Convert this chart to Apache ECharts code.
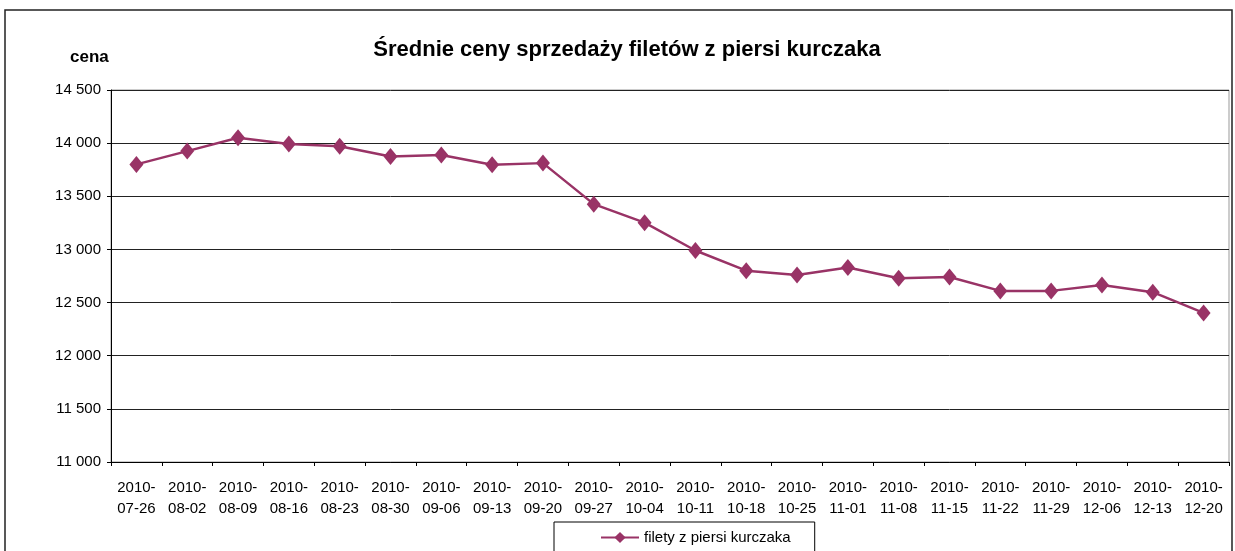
<!DOCTYPE html>
<html>
<head>
<meta charset="utf-8">
<script src="https://cdn.jsdelivr.net/npm/echarts@6/dist/echarts.min.js"></script>
<style>
  html, body { margin: 0; padding: 0; background: #fff; }
  #chart { width: 1235px; height: 551px; }
</style>
</head>
<body>
<div id="chart"></div>
<script>
const categories = [
  "2010-07-26","2010-08-02","2010-08-09","2010-08-16","2010-08-23","2010-08-30",
  "2010-09-06","2010-09-13","2010-09-20","2010-09-27","2010-10-04","2010-10-11",
  "2010-10-18","2010-10-25","2010-11-01","2010-11-08","2010-11-15","2010-11-22",
  "2010-11-29","2010-12-06","2010-12-13","2010-12-20"
];
const prices = [
  13800, 13925, 14050, 13992, 13970, 13875, 13888, 13796, 13812, 13426, 13252, 12990,
  12800, 12760, 12830, 12728, 12740, 12610, 12610, 12666, 12598, 12403
];
const seriesName = "filety z piersi kurczaka";
const titleText = "Średnie ceny sprzedaży filetów z piersi kurczaka";
const yAxisTitle = "cena";

const chart = echarts.init(document.getElementById('chart'), null, { renderer: 'canvas' });
const FONT = '"Liberation Sans", Arial, sans-serif';

chart.setOption({
  animation: false,
  backgroundColor: '#fff',
  title: {
    text: titleText,
    left: 622,
    textAlign: 'center',
    top: 34,
    textStyle: { fontFamily: FONT, fontSize: 22, fontWeight: 'bold', color: '#000' }
  },
  graphic: [
    {
      type: 'rect',
      shape: { x: 5, y: 10, width: 1227, height: 600 },
      style: { fill: 'none', stroke: '#222', lineWidth: 1.5 },
      z: 0
    },
    {
      type: 'text',
      left: 70,
      top: 49,
      style: { text: yAxisTitle, fontFamily: FONT, fontSize: 17, fontWeight: 'bold', fill: '#000' }
    }
  ],
  legend: {
    left: 554,
    top: 522,
    padding: [8, 24, 20, 46],
    borderColor: '#000',
    borderWidth: 1,
    borderRadius: 0,
    itemWidth: 38,
    itemHeight: 14,
    textStyle: { fontFamily: FONT, fontSize: 15, color: '#000' },
    data: [seriesName]
  },
  grid: {
    left: 111,
    right: 6,
    top: 90,
    bottom: 89,
    show: true,
    borderColor: '#999',
    borderWidth: 1,
    containLabel: false
  },
  xAxis: {
    type: 'category',
    data: categories,
    boundaryGap: true,
    axisLine: { show: true, lineStyle: { color: '#000', width: 1 } },
    axisTick: { show: true, alignWithLabel: false, length: 4, inside: false, lineStyle: { color: '#000' } },
    axisLabel: {
      interval: 0,
      margin: 15,
      fontFamily: FONT,
      fontSize: 15,
      color: '#000',
      lineHeight: 21,
      formatter: function (v) { return v.slice(0, 5) + '\n' + v.slice(5); }
    },
    splitLine: { show: false }
  },
  yAxis: {
    type: 'value',
    min: 11000,
    max: 14500,
    interval: 500,
    axisLine: { show: true, lineStyle: { color: '#000', width: 1 } },
    axisTick: { show: true, length: 4, lineStyle: { color: '#000' } },
    axisLabel: {
      margin: 10,
      fontFamily: FONT,
      fontSize: 15,
      color: '#000',
      formatter: function (v) {
        const s = String(v);
        return s.replace(/\B(?=(\d{3})+(?!\d))/g, ' ');
      }
    },
    splitLine: { show: true, lineStyle: { color: '#222', width: 1 } }
  },
  series: [
    {
      name: seriesName,
      type: 'line',
      data: prices,
      symbol: 'diamond',
      symbolSize: [14, 17],
      showSymbol: true,
      itemStyle: { color: '#993366' },
      lineStyle: { color: '#993366', width: 2.5 },
      z: 5
    }
  ]
});
</script>
</body>
</html>
